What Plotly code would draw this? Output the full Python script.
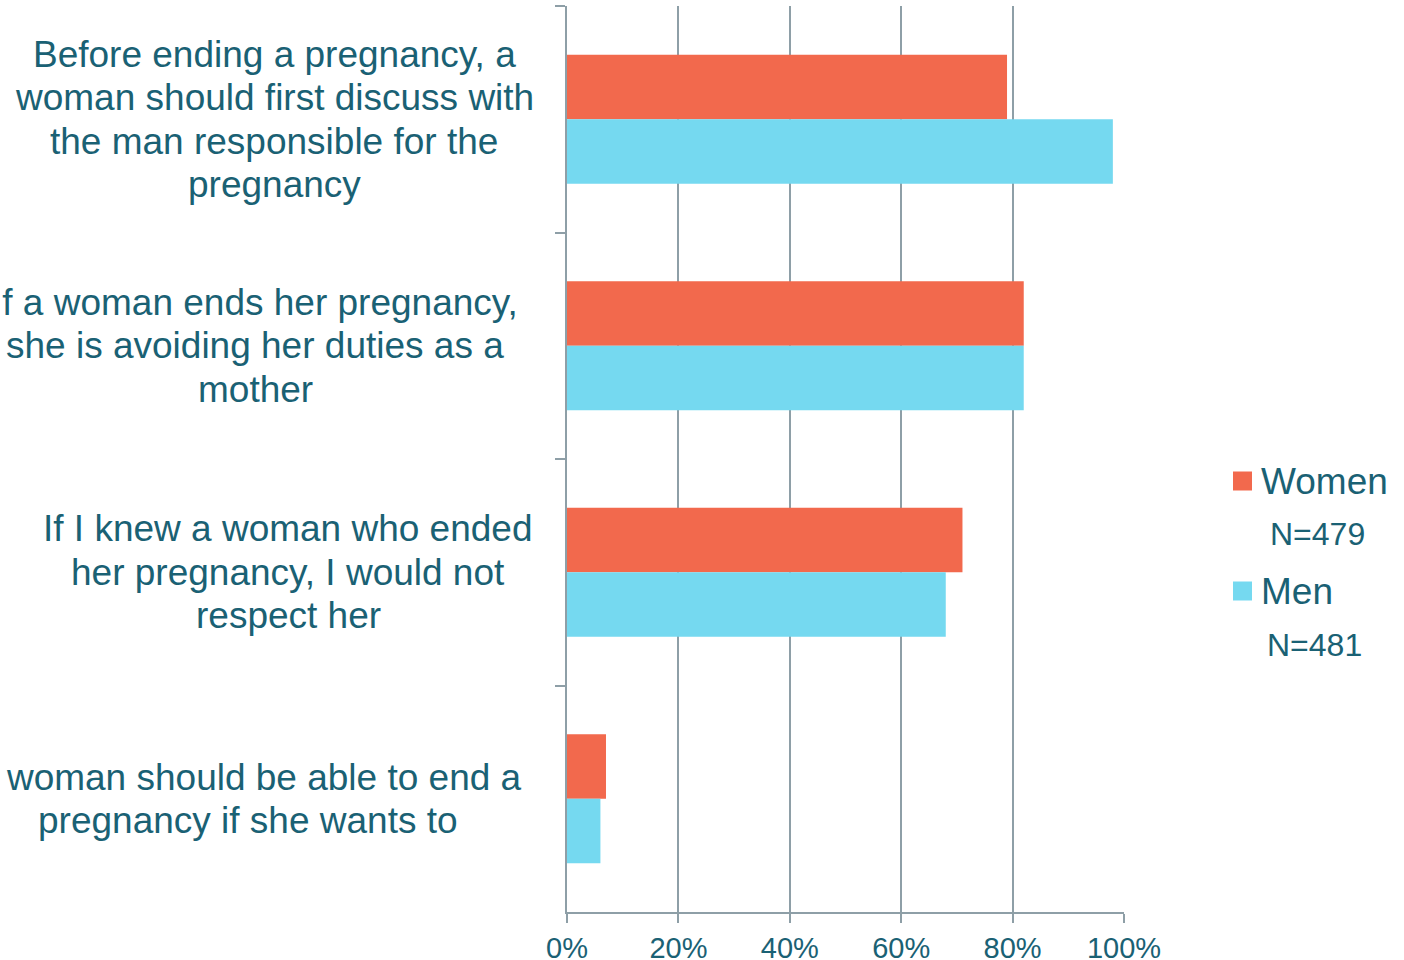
import plotly.graph_objects as go

categories = [
    "Before ending a pregnancy, a woman should first discuss with the man responsible for the pregnancy",
    "If a woman ends her pregnancy, she is avoiding her duties as a mother",
    "If I knew a woman who ended her pregnancy, I would not respect her",
    "A woman should be able to end a pregnancy if she wants to",
]
label_lines = [
    ["Before ending a pregnancy, a", "woman should first discuss with", "the man responsible for the", "pregnancy"],
    ["If a woman ends her pregnancy,", "she is avoiding her duties as a", "mother"],
    ["If I knew a woman who ended", "her pregnancy, I would not", "respect her"],
    ["A woman should be able to end a", "pregnancy if she wants to"],
]
women = [79, 82, 71, 7]
men = [98, 82, 68, 6]
series_names = ["Women", "Men"]
series_n = ["N=479", "N=481"]
tick_vals = [0, 20, 40, 60, 80, 100]
tick_text = ["0%", "20%", "40%", "60%", "80%", "100%"]

W, H = 1404, 960
L, R, T, B = 567, 280, 6, 48
PW, PH = W - L - R, H - T - B

TEXT = "#1A6174"
ORANGE = "#F2694D"
CYAN = "#75D9F0"
GRID = "#8E9FA7"
FONT = "Liberation Sans, Arial, sans-serif"


def px_x(px):
    return (px - L) / PW


def px_y(py):
    return (H - B - py) / PH


fig = go.Figure()
fig.add_trace(go.Bar(y=categories, x=women, orientation="h", name=series_names[0],
                     marker=dict(color=ORANGE, line=dict(width=0)), showlegend=False))
fig.add_trace(go.Bar(y=categories, x=men, orientation="h", name=series_names[1],
                     marker=dict(color=CYAN, line=dict(width=0)), showlegend=False))

annotations = []
centers = [274, 255, 288, 248]
LINE_H = 43.5
for cat, lines, cx in zip(categories, label_lines, centers):
    n = len(lines)
    for i, line in enumerate(lines):
        annotations.append(dict(
            text=line, xref="paper", yref="y", x=px_x(cx), y=cat,
            xanchor="center", yanchor="middle", showarrow=False,
            yshift=((n - 1) / 2 - i) * LINE_H,
            font=dict(size=37, color=TEXT, family=FONT),
        ))

shapes = []
legend_sq_y = [481, 591]
n_y = [534, 645]
n_cx = [1317, 1314]
colors = [ORANGE, CYAN]
for name, nt, sy, ny, ncx, col in zip(series_names, series_n, legend_sq_y, n_y, n_cx, colors):
    shapes.append(dict(type="rect", xref="paper", yref="paper",
                       x0=px_x(1233), x1=px_x(1252), y0=px_y(sy + 9.5), y1=px_y(sy - 9.5),
                       fillcolor=col, line=dict(width=0)))
    annotations.append(dict(text=name, xref="paper", yref="paper", x=px_x(1259), y=px_y(sy),
                            xanchor="left", yanchor="middle", showarrow=False,
                            font=dict(size=37, color=TEXT, family=FONT)))
    annotations.append(dict(text=nt, xref="paper", yref="paper", x=px_x(ncx), y=px_y(ny),
                            xanchor="center", yanchor="middle", showarrow=False,
                            font=dict(size=32, color=TEXT, family=FONT)))

fig.update_layout(
    width=W, height=H,
    margin=dict(l=L, r=R, t=T, b=B, autoexpand=False),
    paper_bgcolor="white", plot_bgcolor="white",
    barmode="group", bargap=0.43, bargroupgap=0,
    annotations=annotations, shapes=shapes,
    font=dict(family=FONT, color=TEXT),
)
fig.update_xaxes(range=[0, 100], tickvals=tick_vals, ticktext=tick_text,
                 showgrid=True, gridcolor=GRID, gridwidth=2,
                 showline=True, linecolor=GRID, linewidth=2,
                 ticks="outside", ticklen=9, tickwidth=2, tickcolor=GRID,
                 tickfont=dict(size=29, color=TEXT, family=FONT), zeroline=False,
                 fixedrange=True)
fig.update_yaxes(autorange="reversed", showticklabels=False,
                 showline=True, linecolor=GRID, linewidth=2,
                 ticks="outside", tickson="boundaries", ticklen=10, tickwidth=2, tickcolor=GRID,
                 showgrid=False, fixedrange=True)

fig.write_html("out.html", config={"displayModeBar": False},
               post_script="document.body.style.margin='0';document.body.style.overflow='hidden';")
